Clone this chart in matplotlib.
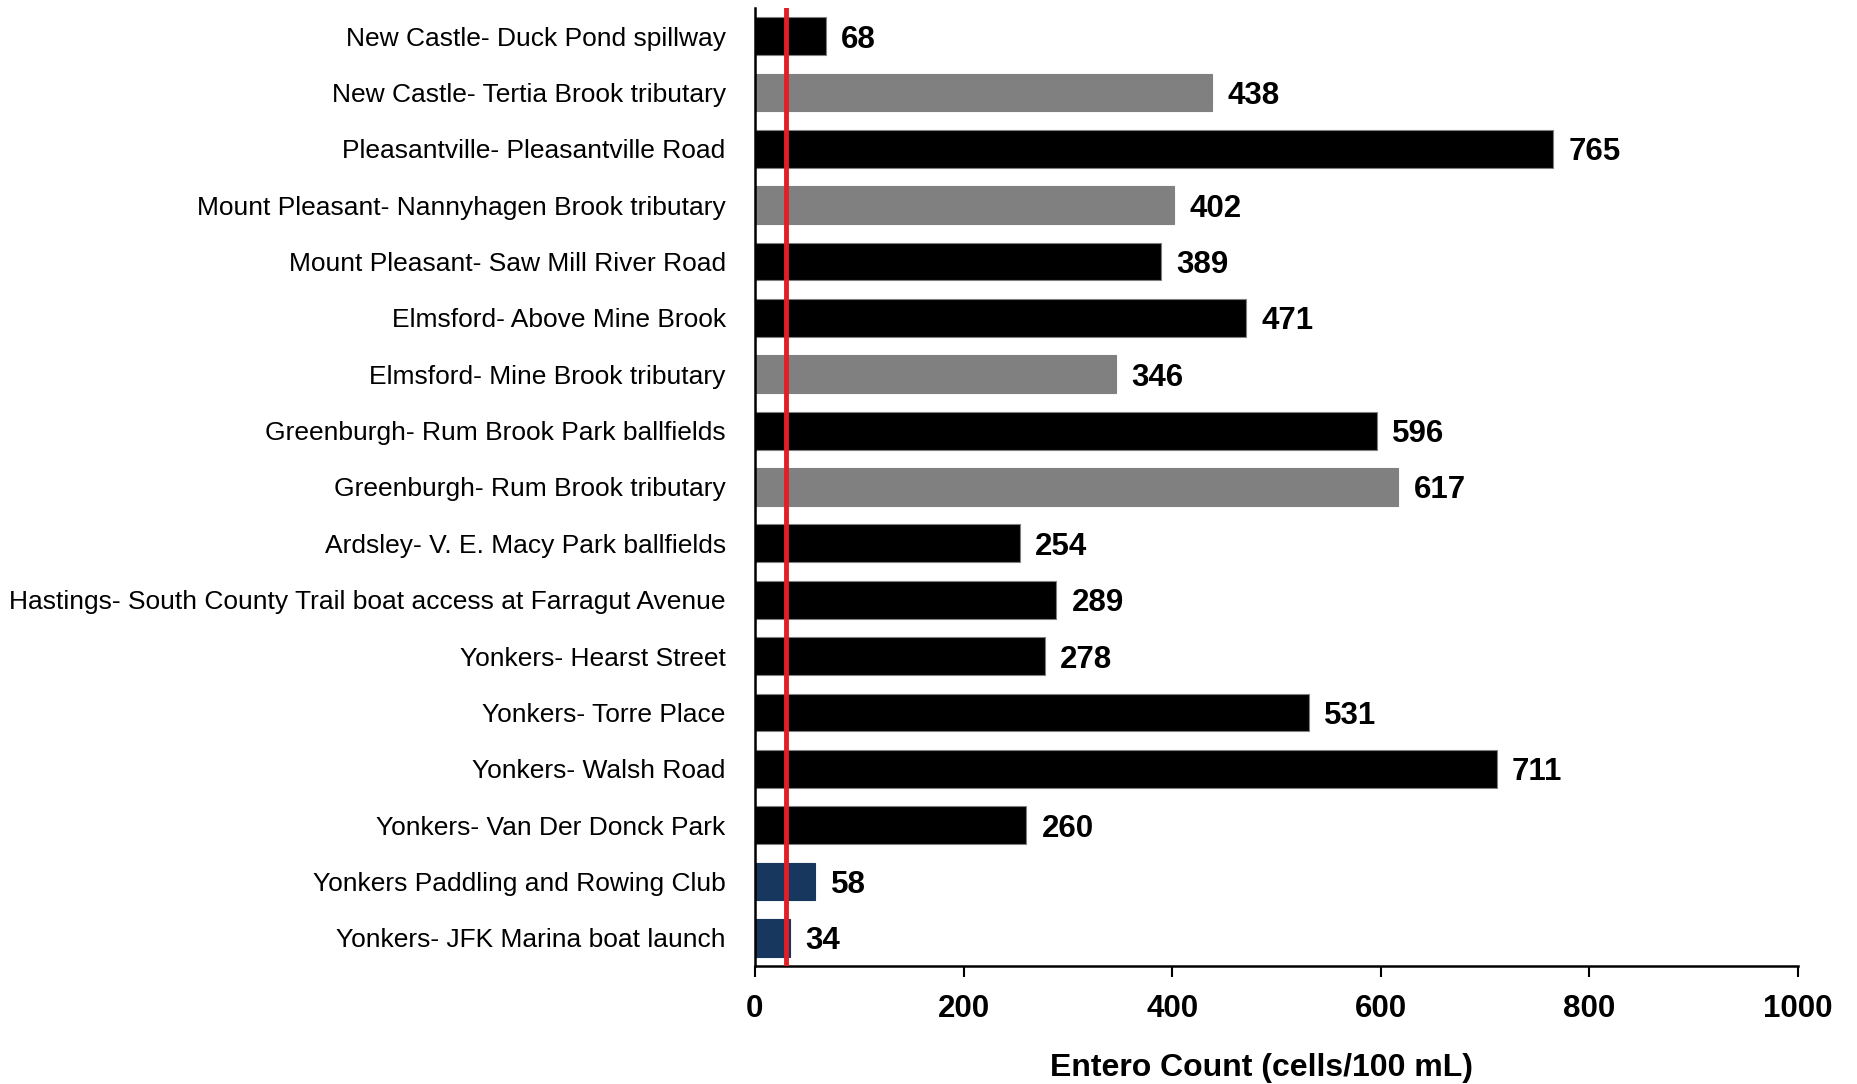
import numpy as np
import matplotlib.pyplot as plt

sites = [
    "New Castle- Duck Pond spillway",
    "New Castle- Tertia Brook tributary",
    "Pleasantville- Pleasantville Road",
    "Mount Pleasant- Nannyhagen Brook tributary",
    "Mount Pleasant- Saw Mill River Road",
    "Elmsford- Above Mine Brook",
    "Elmsford- Mine Brook tributary",
    "Greenburgh- Rum Brook Park ballfields",
    "Greenburgh- Rum Brook tributary",
    "Ardsley- V. E. Macy Park ballfields",
    "Hastings- South County Trail boat access at Farragut Avenue",
    "Yonkers- Hearst Street",
    "Yonkers- Torre Place",
    "Yonkers- Walsh Road",
    "Yonkers- Van Der Donck Park",
    "Yonkers Paddling and Rowing Club",
    "Yonkers- JFK Marina boat launch",
]
counts = [68, 438, 765, 402, 389, 471, 346, 596, 617, 254, 289, 278, 531, 711, 260, 58, 34]
# site type: main stem, tributary, river
kind = ["m", "t", "m", "t", "m", "m", "t", "m", "t", "m", "m", "m", "m", "m", "m", "r", "r"]
threshold = 30
xticks = [0, 200, 400, 600, 800, 1000]

face = {"m": "#000000", "t": "#808080", "r": "#17375E"}
edge = {"m": "#808080", "t": "#808080", "r": "#17375E"}

plt.rcParams['font.family'] = ['Liberation Sans', 'DejaVu Sans']

fig = plt.figure(figsize=(18.58, 10.84), dpi=100)
ax = fig.add_axes([0.4063, 0.1089, 0.5614, 0.8837])

y = np.arange(len(sites))
ax.barh(y, counts, height=0.67,
        color=[face[k] for k in kind],
        edgecolor=[edge[k] for k in kind], linewidth=0.8, zorder=2)

for yi, c in zip(y, counts):
    ax.annotate(str(c), (c, yi), xytext=(11, 0), textcoords='offset points',
                va='center_baseline', ha='left', fontsize=22.5, fontweight='bold')

ax.axvline(threshold, color='#E41E26', linewidth=3.5, zorder=3)

ax.set_ylim(len(sites) - 0.5, -0.5)
ax.set_xlim(0, 1000)
ax.set_yticks(y)
ax.set_yticklabels(sites, fontsize=19)
ax.tick_params(axis='y', length=0, pad=21)
ax.set_xticks(xticks)
ax.set_xticklabels([str(t) for t in xticks], fontsize=22.5, fontweight='bold')
ax.tick_params(axis='x', length=8, width=1.5, direction='out', pad=12)

for s in ['top', 'right']:
    ax.spines[s].set_visible(False)
for s in ['left', 'bottom']:
    ax.spines[s].set_linewidth(1.8)

ax.set_xlabel("Entero Count (cells/100 mL)", fontsize=23, fontweight='bold', labelpad=21)
ax.xaxis.label.set_x(0.486)

fig.savefig("out.png", dpi=100)
